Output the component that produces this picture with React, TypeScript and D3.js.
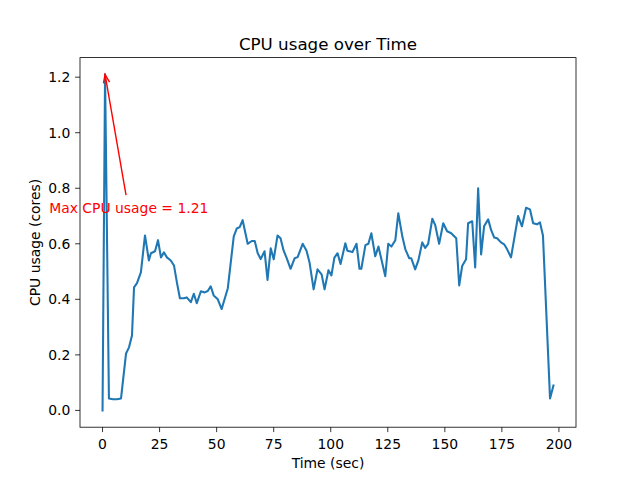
import React from "react";
import * as d3 from "d3";

const times = [0, 1.1, 2.8, 4.6, 6.3, 8.1, 10.3, 11.6, 12.9, 13.8, 15.1, 16.8, 18.6, 20.3, 21.2, 23.0, 24.3, 25.6, 26.9, 28.2, 29.9, 31.3, 32.6, 33.9, 35.6, 36.9, 38.7, 40.0, 41.3, 43.1, 44.8, 46.1, 47.4, 48.7, 50.5, 52.2, 54.9, 57.5, 58.8, 60.1, 61.4, 63.6, 65.4, 66.7, 68.0, 69.3, 71.0, 72.3, 73.7, 75.0, 76.7, 78.0, 79.3, 80.7, 82.4, 84.2, 85.5, 87.7, 89.4, 90.7, 92.5, 94.2, 96.0, 97.3, 99.0, 100.3, 101.6, 103.0, 104.3, 106.4, 107.3, 109.5, 111.3, 112.6, 113.4, 115.2, 116.5, 117.8, 119.5, 120.9, 122.2, 123.9, 125.2, 126.6, 128.3, 129.6, 131.4, 132.7, 134.4, 135.3, 137.0, 138.4, 140.1, 141.4, 142.7, 144.5, 145.8, 147.5, 149.3, 151.0, 152.8, 155.0, 156.3, 157.6, 159.3, 160.2, 162.0, 163.3, 164.6, 165.9, 167.2, 169.0, 170.3, 171.6, 172.9, 174.6, 176.0, 177.3, 179.0, 180.3, 182.1, 183.8, 185.6, 187.3, 188.7, 190.4, 191.7, 193.0, 196.1, 197.6];
const cpu = [0, 1.21, 0.043, 0.04, 0.04, 0.043, 0.205, 0.227, 0.27, 0.443, 0.458, 0.497, 0.63, 0.54, 0.566, 0.573, 0.613, 0.551, 0.569, 0.551, 0.54, 0.522, 0.46, 0.404, 0.404, 0.407, 0.39, 0.42, 0.386, 0.429, 0.425, 0.43, 0.447, 0.414, 0.40, 0.365, 0.44, 0.627, 0.655, 0.66, 0.685, 0.60, 0.61, 0.61, 0.566, 0.545, 0.573, 0.47, 0.584, 0.544, 0.63, 0.62, 0.577, 0.548, 0.51, 0.548, 0.552, 0.60, 0.575, 0.533, 0.436, 0.508, 0.49, 0.436, 0.505, 0.486, 0.55, 0.566, 0.527, 0.602, 0.575, 0.57, 0.60, 0.51, 0.51, 0.595, 0.60, 0.638, 0.555, 0.59, 0.544, 0.483, 0.60, 0.59, 0.613, 0.71, 0.625, 0.58, 0.548, 0.548, 0.508, 0.54, 0.605, 0.585, 0.60, 0.69, 0.667, 0.60, 0.674, 0.645, 0.638, 0.62, 0.45, 0.52, 0.544, 0.674, 0.681, 0.515, 0.80, 0.562, 0.663, 0.688, 0.649, 0.623, 0.62, 0.605, 0.598, 0.58, 0.551, 0.613, 0.70, 0.663, 0.73, 0.724, 0.674, 0.67, 0.677, 0.63, 0.043, 0.09];
const xTicks = [0, 25, 50, 75, 100, 125, 150, 175, 200];
const yTicks = [0.0, 0.2, 0.4, 0.6, 0.8, 1.0, 1.2];
const title = "CPU usage over Time";
const xLabel = "Time (sec)";
const yLabel = "CPU usage (cores)";
const annText = "Max CPU usage = 1.21";

export default function App() {
  const W = 640, H = 480;
  const L = 80, R = 576, T = 57.6, B = 427.2;
  const tMin = d3.min(times)!, tMax = d3.max(times)!;
  const vMin = d3.min(cpu)!, vMax = d3.max(cpu)!;
  const tPad = (tMax - tMin) * 0.05, vPad = (vMax - vMin) * 0.05;
  const x = d3.scaleLinear().domain([tMin - tPad, tMax + tPad]).range([L, R]);
  const y = d3.scaleLinear().domain([vMin - vPad, vMax + vPad]).range([B, T]);
  const data = times.map((t, i) => [t, cpu[i]] as [number, number]);
  const line = d3.line<[number, number]>().x(d => x(d[0])).y(d => y(d[1]));
  const maxIdx = cpu.indexOf(vMax);
  const px = x(times[maxIdx]), py = y(vMax);
  const textX = x(11.5), textY = y(0.71);
  const sx = x(10.3), sy = textY - 18;
  const ang = Math.atan2(sy - py, sx - px);
  const hl = 9, ha = 0.35;
  const head = `M${px + hl * Math.cos(ang - ha)},${py + hl * Math.sin(ang - ha)} L${px},${py} L${px + hl * Math.cos(ang + ha)},${py + hl * Math.sin(ang + ha)}`;
  const font = "DejaVu Sans, sans-serif";
  return (
    <svg width={W} height={H} style={{ position: "absolute", left: 0, top: 0, background: "#fff" }} fontFamily={font}>
      <rect x={0} y={0} width={W} height={H} fill="#fff" />
      <path d={line(data)!} fill="none" stroke="#1f77b4" strokeWidth={2.08} strokeLinejoin="round" strokeLinecap="square" />
      <rect x={L} y={T} width={R - L} height={B - T} fill="none" stroke="#000" strokeWidth={0.8} />
      {xTicks.map(t => (
        <g key={t}>
          <line x1={x(t)} x2={x(t)} y1={B} y2={B + 4.9} stroke="#000" strokeWidth={0.8} />
          <text x={x(t)} y={B + 22} textAnchor="middle" fontSize={13.9} fill="#000">{t}</text>
        </g>
      ))}
      {yTicks.map(v => (
        <g key={v}>
          <line x1={L - 4.9} x2={L} y1={y(v)} y2={y(v)} stroke="#000" strokeWidth={0.8} />
          <text x={L - 9.7} y={y(v)} dy="0.35em" textAnchor="end" fontSize={13.9} fill="#000">{v.toFixed(1)}</text>
        </g>
      ))}
      <text x={(L + R) / 2} y={49.5} textAnchor="middle" fontSize={16.7} fill="#000">{title}</text>
      <text x={(L + R) / 2} y={468} textAnchor="middle" fontSize={13.9} fill="#000">{xLabel}</text>
      <text transform={`translate(40,${(T + B) / 2}) rotate(-90)`} textAnchor="middle" fontSize={13.9} fill="#000">{yLabel}</text>
      <text x={textX} y={textY} textAnchor="middle" fontSize={13.9} fill="red">{annText}</text>
      <line x1={sx} y1={sy} x2={px} y2={py} stroke="red" strokeWidth={1.4} />
      <path d={head} fill="none" stroke="red" strokeWidth={1.4} />
    </svg>
  );
}
